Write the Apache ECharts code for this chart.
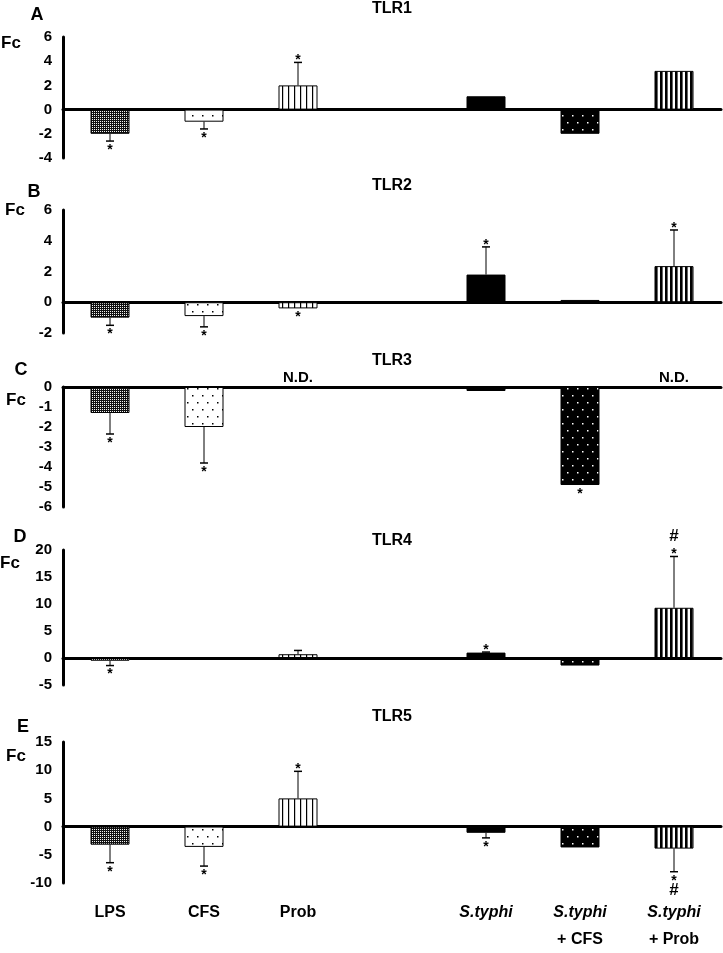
<!DOCTYPE html>
<html><head><meta charset="utf-8">
<script src="https://cdn.jsdelivr.net/npm/echarts@6/dist/echarts.min.js"></script>
<style>html,body{margin:0;padding:0;background:#fff}#c{width:723px;height:953px}</style>
</head><body><div id="c"></div><script>
// ---------- data ----------
const categories = ['LPS', 'CFS', 'Prob', '', 'S.typhi', 'S.typhi\n+ CFS', 'S.typhi\n+ Prob'];
const panelTitles = ['TLR1', 'TLR2', 'TLR3', 'TLR4', 'TLR5'];
const panelLetters = ['A', 'B', 'C', 'D', 'E'];
const yLabel = 'Fc';

const tlr1 = [-2.0, -1.0, 2.0, null, 1.1, -2.0, 3.2];
const tlr1Err = [0.6, 0.6, 1.9, null, null, null, null];
const tlr1Sig = ['*', '*', '*', '', '', '', ''];

const tlr2 = [-1.0, -0.9, -0.4, null, 1.8, 0.15, 2.35];
const tlr2Err = [0.5, 0.7, null, null, 1.8, null, 2.35];
const tlr2Sig = ['*', '*', '*', '', '*', '', '*'];

const tlr3 = [-1.3, -2.0, null, null, -0.2, -4.9, null];
const tlr3Err = [1.05, 1.8, null, null, null, null, null];
const tlr3Sig = ['*', '*', '', '', '', '*', ''];
const tlr3ND = ['', '', 'N.D.', '', '', '', 'N.D.'];

const tlr4 = [-0.5, null, 0.7, null, 1.0, -1.4, 9.3];
const tlr4Err = [0.9, null, 0.7, null, 0.1, null, 9.5];
const tlr4Sig = ['*', '', '', '', '*', '', '*'];
const tlr4Hash = ['', '', '', '', '', '', '#'];

const tlr5 = [-3.2, -3.6, 5.0, null, -1.1, -3.7, -3.9];
const tlr5Err = [3.2, 3.4, 4.8, null, 0.9, null, 4.1];
const tlr5Sig = ['*', '*', '*', '', '*', '', '*'];
const tlr5Hash = ['', '', '', '', '', '', '#'];

const axisMin = [-4, -2, -6, -5, -10];
const axisMax = [6, 6, 0, 20, 15];
const axisStep = [2, 2, 1, 5, 5];

// ---------- layout / style ----------
const panels = [
  {vals: tlr1, err: tlr1Err, sig: tlr1Sig, nd: null, hash: null},
  {vals: tlr2, err: tlr2Err, sig: tlr2Sig, nd: null, hash: null},
  {vals: tlr3, err: tlr3Err, sig: tlr3Sig, nd: tlr3ND, hash: null},
  {vals: tlr4, err: tlr4Err, sig: tlr4Sig, nd: null, hash: tlr4Hash},
  {vals: tlr5, err: tlr5Err, sig: tlr5Sig, nd: null, hash: tlr5Hash}
];
const gridTops = [37, 210, 387, 550, 742];
const gridHeights = [121, 123, 120, 135, 141];
const titleY = [10, 187, 362, 542, 718];
const letterPos = [[37, 15], [34, 192], [21, 370], [20, 537], [23, 727]];
const fcPos = [[11, 43], [15, 210], [16, 400], [10, 563], [16, 756]];
const FONT = '"Liberation Sans Narrow","Arial Narrow","Liberation Sans",Arial,sans-serif';

function tile(w, h, draw) {
  const c = document.createElement('canvas'); c.width = w; c.height = h;
  const g = c.getContext('2d'); draw(g); return {image: c, repeat: 'repeat'};
}
const patterns = [
  tile(2, 2, g => { g.fillStyle = '#f2f2f2'; g.fillRect(0,0,2,2); g.fillStyle = '#111'; g.fillRect(0,0,1,1); g.fillRect(1,1,1,1); g.fillRect(1,0,1,1); }),
  tile(10, 14, g => { g.fillStyle = '#fff'; g.fillRect(0,0,10,14); g.fillStyle = '#000'; g.fillRect(2,3,1.5,1.5); g.fillRect(7,10,1.5,1.5); }),
  tile(6, 4, g => { g.fillStyle = '#fff'; g.fillRect(0,0,6,4); g.fillStyle = '#000'; g.fillRect(0,0,1.2,4); }),
  '#000',
  '#000',
  tile(10, 14, g => { g.fillStyle = '#000'; g.fillRect(0,0,10,14); g.fillStyle = '#fff'; g.fillRect(2,3,1.5,1.5); g.fillRect(7,10,1.5,1.5); }),
  tile(5, 4, g => { g.fillStyle = '#fff'; g.fillRect(0,0,5,4); g.fillStyle = '#000'; g.fillRect(0,0,2.6,4); })
];

function makeRender(p) {
  return function (params, api) {
    const i = params.dataIndex;
    const v = p.vals[i];
    const children = [];
    if (p.nd && p.nd[i]) {
      const z = api.coord([i, 0]);
      children.push({type: 'text', style: {text: p.nd[i], x: z[0], y: z[1] - 2, align: 'center', verticalAlign: 'bottom',
        font: 'bold 15px ' + FONT, fill: '#000'}});
    }
    if (v == null) return {type: 'group', children: children};
    const e = p.err[i] || 0;
    const s = v >= 0 ? 1 : -1;
    const p0 = api.coord([i, v]);
    const p1 = api.coord([i, v + s * e]);
    if (e) {
      children.push({type: 'line', shape: {x1: p0[0], y1: p0[1], x2: p1[0], y2: p1[1]}, style: {stroke: '#000', lineWidth: 1}});
      children.push({type: 'line', shape: {x1: p1[0] - 4, y1: p1[1], x2: p1[0] + 4, y2: p1[1]}, style: {stroke: '#000', lineWidth: 1.5}});
    }
    let starC = null;
    if (p.sig[i]) {
      starC = s > 0 ? p1[1] - 5 : p1[1] + 6;
      children.push({type: 'text', style: {text: p.sig[i], x: p1[0], y: starC - 4, align: 'center', verticalAlign: 'top',
        font: 'bold 14px ' + FONT, fill: '#000'}});
    }
    if (p.hash && p.hash[i]) {
      const hc = s > 0 ? starC - 15 : starC + 13;
      children.push({type: 'text', style: {text: p.hash[i], x: p1[0], y: hc, align: 'center', verticalAlign: 'middle',
        font: 'bold 17px ' + FONT, fill: '#000'}});
    }
    return {type: 'group', children: children};
  };
}

const grid = [], xAxis = [], yAxis = [], series = [], graphic = [];
panels.forEach((p, k) => {
  grid.push({left: 63, right: 2, top: gridTops[k], height: gridHeights[k]});
  xAxis.push({type: 'category', gridIndex: k, data: categories,
    axisLine: {onZero: true, lineStyle: {color: '#000', width: 3}},
    axisTick: {show: false}, axisLabel: {show: false}, splitLine: {show: false}});
  yAxis.push({type: 'value', gridIndex: k, min: axisMin[k], max: axisMax[k], interval: axisStep[k],
    axisLine: {show: true, onZero: false, lineStyle: {color: '#000', width: 3}},
    axisTick: {show: false}, splitLine: {show: false},
    axisLabel: {color: '#000', fontWeight: 'bold', fontSize: 15, fontFamily: FONT, margin: 11}});
  series.push({type: 'bar', xAxisIndex: k, yAxisIndex: k, barWidth: 39, silent: true,
    data: p.vals.map((v, i) => ({value: v, itemStyle: {color: patterns[i], borderColor: '#000', borderWidth: 1}}))});
  series.push({type: 'custom', xAxisIndex: k, yAxisIndex: k, silent: true, z: 5,
    data: p.vals.map((v, i) => [i, v == null ? 0 : v, p.err[i] || 0]),
    renderItem: makeRender(p)});
  graphic.push({type: 'text', left: 392 - 20, top: titleY[k] - 9, style: {text: panelTitles[k], font: 'bold 16px ' + FONT, fill: '#000'}});
  graphic.push({type: 'text', x: letterPos[k][0], y: letterPos[k][1], style: {text: panelLetters[k], font: 'bold 18px ' + FONT, fill: '#000', align: 'center', verticalAlign: 'middle'}});
  graphic.push({type: 'text', x: fcPos[k][0], y: fcPos[k][1], style: {text: yLabel, font: 'bold 17px ' + FONT, fill: '#000', align: 'center', verticalAlign: 'middle'}});
});
// bottom category labels
grid.push({left: 63, right: 2, top: 898, height: 1});
xAxis.push({type: 'category', gridIndex: 5, data: categories, axisLine: {show: false}, axisTick: {show: false},
  axisLabel: {interval: 0, margin: 0, verticalAlign: 'top',
    formatter: function (v) {
      if (!v) return '';
      return v.split('\n').map(t => t.indexOf('S.typhi') === 0 ? '{i|' + t + '}' : '{n|' + t + '}').join('\n');
    },
    rich: {i: {fontStyle: 'italic', fontWeight: 'bold', fontSize: 16, fontFamily: FONT, color: '#000', lineHeight: 27},
           n: {fontWeight: 'bold', fontSize: 16, fontFamily: FONT, color: '#000', lineHeight: 27}}}});
yAxis.push({type: 'value', gridIndex: 5, show: false});

const chart = echarts.init(document.getElementById('c'), null, {renderer: 'canvas'});
chart.setOption({animation: false, backgroundColor: '#fff', grid, xAxis, yAxis, series, graphic});
</script></body></html>
